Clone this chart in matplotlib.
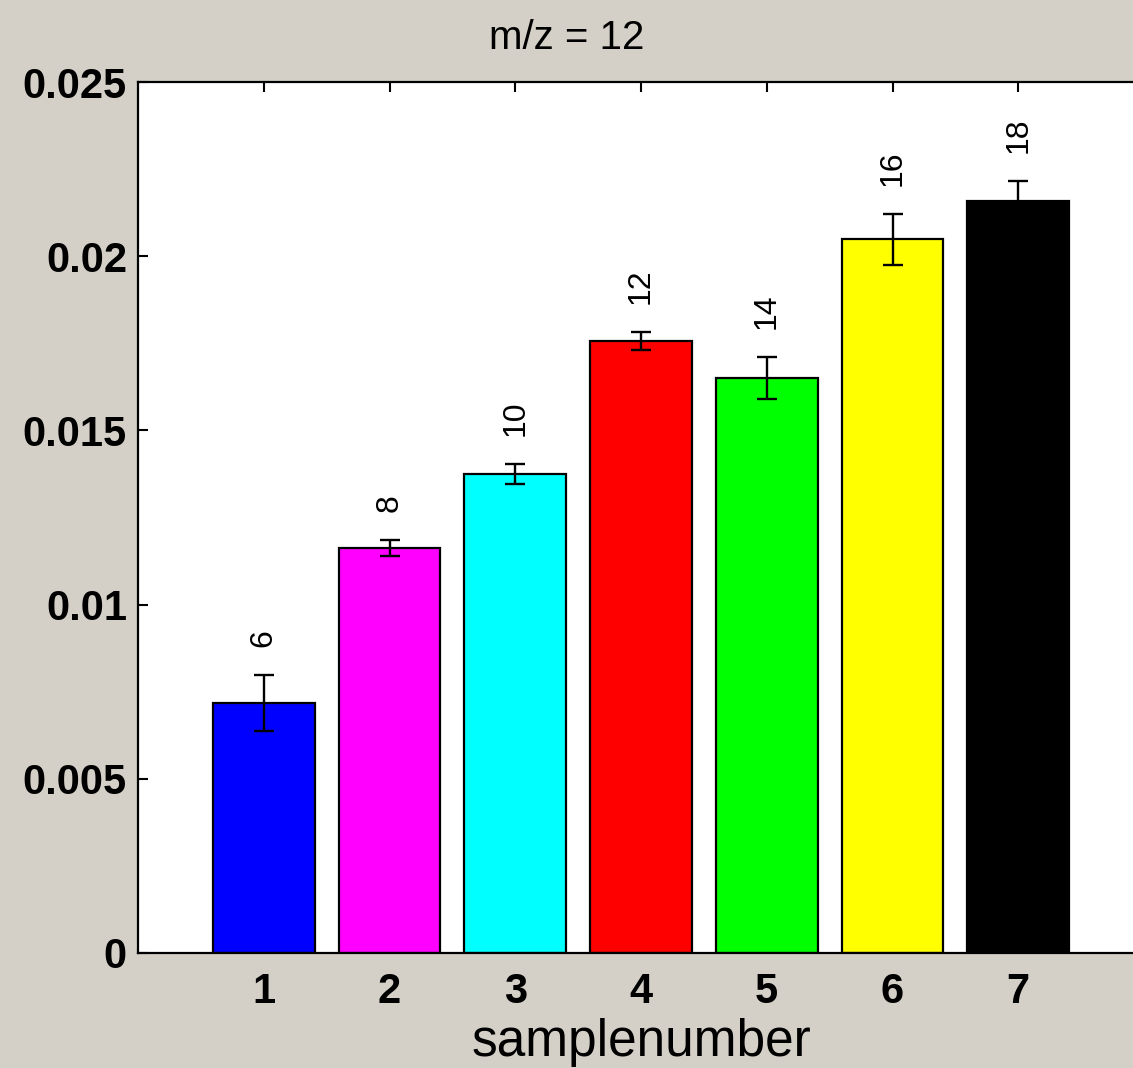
import numpy as np
import matplotlib
matplotlib.use("Agg")
import matplotlib.pyplot as plt

# data
samples = [1, 2, 3, 4, 5, 6, 7]
means = [0.00718, 0.01162, 0.01375, 0.01757, 0.01650, 0.02049, 0.02158]
errs = [0.00080, 0.00023, 0.00029, 0.00026, 0.00060, 0.00073, 0.00057]
labels = ["6", "8", "10", "12", "14", "16", "18"]
colors = ["#0000ff", "#ff00ff", "#00ffff", "#ff0000", "#00ff00", "#ffff00", "#000000"]
yticks = [0, 0.005, 0.01, 0.015, 0.02, 0.025]
ytick_labels = ["0", "0.005", "0.01", "0.015", "0.02", "0.025"]

bg = "#d4d0c8"
plt.rcParams["font.family"] = ["Liberation Sans", "DejaVu Sans"]

fig = plt.figure(figsize=(11.33, 10.68), dpi=100, facecolor=bg)
ax = fig.add_axes([138 / 1133, 1 - 953 / 1068, (1144 - 138) / 1133, (953 - 82) / 1068])
ax.set_facecolor("white")

ax.bar(samples, means, width=0.81, color=colors, edgecolor="black", linewidth=1.6, zorder=2)
ax.errorbar(samples, means, yerr=errs, fmt="none", ecolor="black", elinewidth=1.7,
            capsize=7.5, capthick=1.7, zorder=3)

for x, m, e, lab in zip(samples, means, errs, labels):
    ax.text(x, m + e + 0.0008, lab, rotation=90, ha="center", va="bottom",
            fontsize=23, color="#000000")

ax.set_xlim(0, 8)
ax.set_ylim(0, 0.025)
ax.set_xticks(samples)
ax.set_xticklabels([str(s) for s in samples], fontsize=30, fontweight="bold")
ax.set_yticks(yticks)
ax.set_yticklabels(ytick_labels, fontsize=30, fontweight="bold")
ax.tick_params(direction="in", length=7, width=1.5, top=True, right=True)
ax.tick_params(axis="x", pad=14)
ax.tick_params(axis="y", pad=8)
for s in ax.spines.values():
    s.set_linewidth(1.6)

ax.set_xlabel("samplenumber", fontsize=37, labelpad=4)
fig.text(0.5, 1 - 38 / 1068, "m/z = 12", ha="center", va="center", fontsize=29)

fig.savefig("out.png", dpi=100, facecolor=bg)
